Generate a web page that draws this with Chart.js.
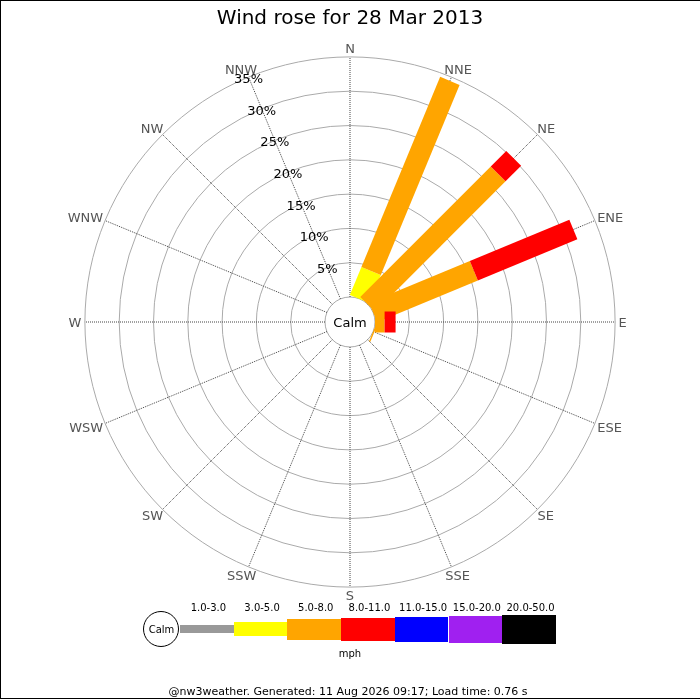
<!DOCTYPE html>
<html>
<head>
<meta charset="utf-8">
<title>Wind rose</title>
<script src="https://cdn.jsdelivr.net/npm/chart.js@4/dist/chart.umd.min.js"></script>
<style>
  body { margin: 0; background: #fff; font-family: "DejaVu Sans", sans-serif; }
  #wrap { position: relative; width: 700px; height: 700px; overflow: hidden; }
  #wrap canvas { position: absolute; left: 0; top: 0; }
  #frame { position: absolute; left: 0; top: 0; width: 700px; height: 699px; box-sizing: border-box;
           border-top: 1px solid #000; border-left: 1px solid #000; border-bottom: 1px solid #000; pointer-events: none; }
  .txt { position: absolute; white-space: nowrap; line-height: 1; transform: translate(-50%, -50%); color: #000; }
  .box { position: absolute; }
</style>
</head>
<body>
<div id="wrap">
  <canvas id="rose" width="700" height="700"></canvas>
  <div class="txt" style="left:350px; top:17px; font-size:20px;">Wind rose for 28 Mar 2013</div>
  <div id="legend"></div>
  <div class="txt" style="left:350px; top:654px; font-size:10px;">mph</div>
  <div class="txt" style="left:348px; top:691px; font-size:11px;">@nw3weather. Generated: 11 Aug 2026 09:17; Load time: 0.76 s</div>
  <div id="frame"></div>
</div>
<script>
// compass points, N first and then clockwise
const directions = ["N", "NNE", "NE", "ENE", "E", "ESE", "SE", "SSE", "S", "SSW", "SW", "WSW", "W", "WNW", "NW", "NNW"]
const speedBands = ["1.0-3.0", "3.0-5.0", "5.0-8.0", "8.0-11.0", "11.0-15.0", "15.0-20.0", "20.0-50.0"]
const bandColours = ["#999999", "#ffff00", "#ffa500", "#ff0000", "#0000ff", "#a020f0", "#000000"]

// % of the day in each band, per direction
const band1to3   = [0, 0,    0,    0,    0,   0,   0, 0, 0, 0, 0, 0, 0, 0, 0, 0]
const band3to5   = [0, 4.4,  0,    0,    0,   0,   0, 0, 0, 0, 0, 0, 0, 0, 0, 0]
const band5to8   = [0, 30.0, 26.9, 15.9, 1.4, 0.2, 0, 0, 0, 0, 0, 0, 0, 0, 0, 0]
const band8to11  = [0, 0,    3.2,  15.7, 1.6, 0,   0, 0, 0, 0, 0, 0, 0, 0, 0, 0]
const band11to15 = [0, 0,    0,    0,    0,   0,   0, 0, 0, 0, 0, 0, 0, 0, 0, 0]
const band15to20 = [0, 0,    0,    0,    0,   0,   0, 0, 0, 0, 0, 0, 0, 0, 0, 0]
const band20to50 = [0, 0,    0,    0,    0,   0,   0, 0, 0, 0, 0, 0, 0, 0, 0, 0]

const ringTicks = [5, 10, 15, 20, 25, 30, 35]

// layout
const CX = 350, CY = 322      // centre of the rose, px
const PX = 6.86               // px per 1 %
const CALM_PX = 25            // radius of the calm circle
const BAR_W = 21
const CALM = CALM_PX / PX     // calm radius in % units

const bands = [band1to3, band3to5, band5to8, band8to11, band11to15, band15to20, band20to50]

const toXY = (r, i) => {
	const a = i * 22.5 * Math.PI / 180
	return { x: r * Math.sin(a), y: r * Math.cos(a) }
}

// one thick line per stacked segment
const datasets = []
const cumulative = directions.map(() => CALM)
bands.forEach((values, k) => {
	values.forEach((v, i) => {
		if (!v) return
		const start = cumulative[i]
		const end = start + v
		cumulative[i] = end
		datasets.push({
			label: speedBands[k] + " " + directions[i],
			data: [toXY(start, i), toXY(end, i)],
			showLine: true,
			borderColor: bandColours[k],
			backgroundColor: bandColours[k],
			borderWidth: BAR_W,
			borderCapStyle: "butt",
			pointRadius: 0,
			fill: false,
			order: 10 - k
		})
	})
})

const roseGrid = {
	id: "roseGrid",
	beforeDatasetsDraw(chart) {
		const { ctx, scales: { x, y } } = chart
		const cx = x.getPixelForValue(0), cy = y.getPixelForValue(0)
		const unit = x.getPixelForValue(1) - cx
		const inner = CALM * unit
		const outer = inner + ringTicks[ringTicks.length - 1] * unit
		ctx.save()
		ctx.strokeStyle = "#aaaaaa"
		ctx.lineWidth = 1
		;[0].concat(ringTicks).forEach(t => {
			ctx.beginPath()
			ctx.arc(cx, cy, inner + t * unit, 0, Math.PI * 2)
			ctx.stroke()
		})
		ctx.strokeStyle = "#444444"
		ctx.setLineDash([1, 1])
		directions.forEach((d, i) => {
			const a = i * 22.5 * Math.PI / 180
			ctx.beginPath()
			ctx.moveTo(cx + inner * Math.sin(a), cy - inner * Math.cos(a))
			ctx.lineTo(cx + outer * Math.sin(a), cy - outer * Math.cos(a))
			ctx.stroke()
		})
		ctx.restore()
	},
	afterDatasetsDraw(chart) {
		const { ctx, scales: { x, y } } = chart
		const cx = x.getPixelForValue(0), cy = y.getPixelForValue(0)
		const unit = x.getPixelForValue(1) - cx
		const inner = CALM * unit
		const outer = inner + ringTicks[ringTicks.length - 1] * unit
		ctx.save()
		ctx.textAlign = "center"
		ctx.textBaseline = "middle"
		ctx.font = "13px 'DejaVu Sans'"
		ctx.fillStyle = "#555555"
		directions.forEach((d, i) => {
			const a = i * 22.5 * Math.PI / 180
			const w = ctx.measureText(d).width
			const R = outer + 3.5
			ctx.fillText(d, cx + R * Math.sin(a) + w / 2 * Math.sin(a), cy - R * Math.cos(a) - 5 * Math.cos(a) + 1.5)
		})
		ctx.fillStyle = "#000"
		const a = 15 * 22.5 * Math.PI / 180
		ringTicks.forEach(t => {
			const r = inner + t * unit
			ctx.fillText(t + "%", cx + r * Math.sin(a), cy - r * Math.cos(a) + 2.5)
		})
		ctx.fillText("Calm", cx, cy + 1.5)
		ctx.restore()
	}
}

new Chart(document.getElementById("rose"), {
	type: "scatter",
	data: { datasets },
	options: {
		responsive: false,
		animation: false,
		devicePixelRatio: 1,
		layout: { padding: 0 },
		plugins: { legend: { display: false }, tooltip: { enabled: false }, title: { display: false } },
		scales: {
			x: { type: "linear", display: false, min: -CX / PX, max: (700 - CX) / PX },
			y: { type: "linear", display: false, min: -(700 - CY) / PX, max: CY / PX }
		}
	},
	plugins: [roseGrid]
})

// colour key under the rose
const legend = document.getElementById("legend")
const keyLeft = 180, keyStep = 53.7, keyMid = 629
const keyHeights = [8, 14.5, 21, 23, 25, 27, 29]
legend.innerHTML =
	'<div class="box" style="left:143px;top:611px;width:36px;height:36px;border:1px solid #000;border-radius:50%;box-sizing:border-box;background:#fff"></div>' +
	'<div class="txt" style="left:161.5px;top:630px;font-size:10px">Calm</div>'
speedBands.forEach((label, k) => {
	const left = keyLeft + k * keyStep
	const h = keyHeights[k]
	legend.innerHTML +=
		'<div class="box" style="left:' + left + 'px;top:' + (keyMid - h / 2) + 'px;width:' + keyStep + 'px;height:' + h + 'px;background:' + bandColours[k] + '"></div>' +
		'<div class="txt" style="left:' + (left + keyStep / 2 + 1.5) + 'px;top:607.5px;font-size:10px">' + label + '</div>'
})
</script>
</body>
</html>
